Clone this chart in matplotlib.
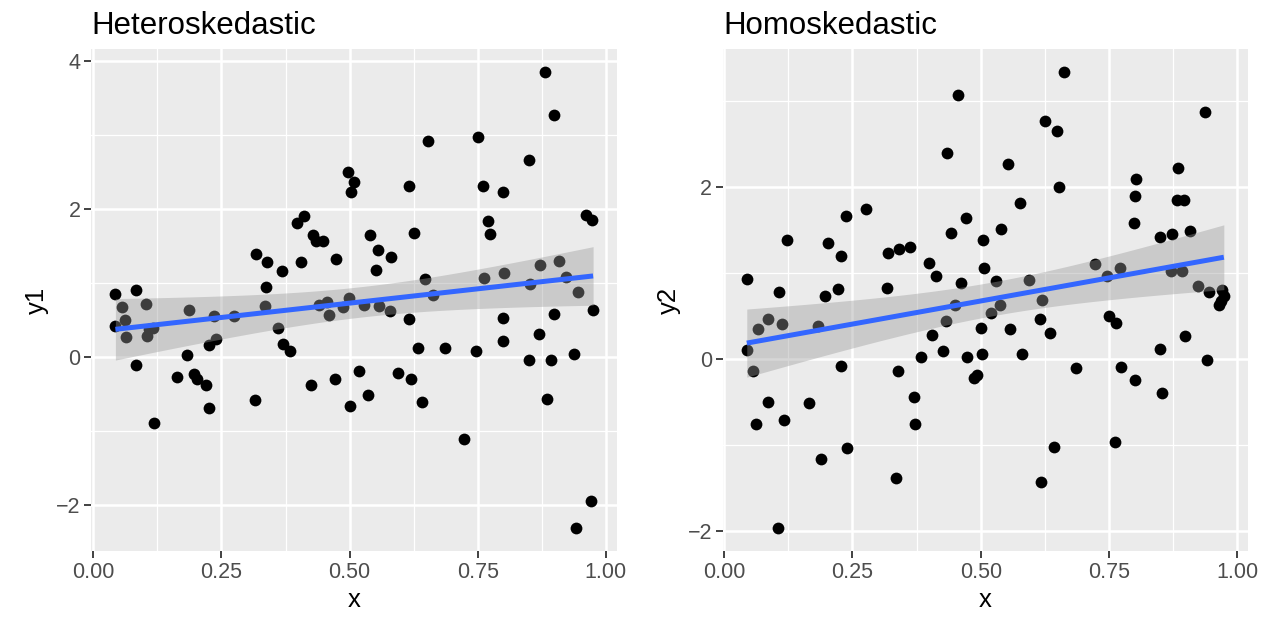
import numpy as np
import matplotlib
matplotlib.use("Agg")
import matplotlib.pyplot as plt
from matplotlib.ticker import MultipleLocator

plt.rcParams['font.family'] = ['Liberation Sans', 'DejaVu Sans']

# heteroskedastic panel
x1 = [0.496, 0.508, 0.502, 0.411, 0.398, 0.429, 0.435, 0.449, 0.318, 0.339,
      0.368, 0.405, 0.473, 0.337, 0.043, 0.084, 0.056, 0.103, 0.187, 0.334,
      0.440, 0.455, 0.488, 0.499, 0.882, 0.898, 0.652, 0.750, 0.849, 0.616,
      0.761, 0.800, 0.961, 0.972, 0.770, 0.774, 0.539, 0.555, 0.581, 0.552,
      0.625, 0.647, 0.662, 0.762, 0.802, 0.872, 0.909, 0.923, 0.852, 0.946,
      0.528, 0.558, 0.579, 0.975, 0.616, 0.634, 0.686, 0.746, 0.800, 0.799,
      0.898, 0.870, 0.850, 0.893, 0.937, 0.519, 0.501, 0.535, 0.594, 0.619,
      0.641, 0.723, 0.885, 0.970, 0.942, 0.061, 0.043, 0.064, 0.116, 0.105,
      0.109, 0.236, 0.275, 0.226, 0.239, 0.182, 0.083, 0.164, 0.196, 0.202,
      0.219, 0.225, 0.119, 0.316, 0.360, 0.370, 0.383, 0.459, 0.425, 0.471]
y1 = [2.50, 2.37, 2.23, 1.91, 1.82, 1.65, 1.57, 1.57, 1.40, 1.29,
      1.17, 1.29, 1.33, 0.95, 0.855, 0.91, 0.68, 0.72, 0.64, 0.69,
      0.70, 0.74, 0.68, 0.805, 3.85, 3.27, 2.92, 2.98, 2.67, 2.31,
      2.32, 2.23, 1.92, 1.86, 1.84, 1.66, 1.65, 1.45, 1.35, 1.18,
      1.68, 1.06, 0.84, 1.07, 1.14, 1.25, 1.30, 1.09, 0.99, 0.88,
      0.71, 0.69, 0.62, 0.635, 0.51, 0.125, 0.125, 0.09, 0.535, 0.215,
      0.59, 0.31, -0.035, -0.035, 0.045, -0.185, -0.66, -0.505, -0.21, -0.29,
      -0.61, -1.10, -0.57, -1.94, -2.31, 0.505, 0.42, 0.275, 0.40, 0.29,
      0.385, 0.56, 0.555, 0.17, 0.24, 0.03, -0.105, -0.265, -0.22, -0.30,
      -0.375, -0.685, -0.89, -0.575, 0.39, 0.175, 0.08, 0.575, -0.38, -0.30]

# homoskedastic panel
x2 = [0.456, 0.435, 0.276, 0.237, 0.471, 0.122, 0.203, 0.228, 0.319, 0.341,
      0.362, 0.442, 0.504, 0.399, 0.412, 0.507, 0.461, 0.044, 0.107, 0.197,
      0.221, 0.318, 0.450, 0.662, 0.626, 0.648, 0.553, 0.653, 0.577, 0.540,
      0.530, 0.594, 0.619, 0.537, 0.937, 0.884, 0.803, 0.800, 0.882, 0.897,
      0.798, 0.850, 0.873, 0.909, 0.723, 0.746, 0.771, 0.871, 0.893, 0.924,
      0.946, 0.971, 0.974, 0.968, 0.965, 0.520, 0.500, 0.557, 0.616, 0.635,
      0.502, 0.581, 0.493, 0.487, 0.686, 0.750, 0.764, 0.774, 0.800, 0.853,
      0.849, 0.898, 0.942, 0.642, 0.762, 0.617, 0.085, 0.065, 0.112, 0.183,
      0.044, 0.057, 0.227, 0.432, 0.406, 0.426, 0.473, 0.384, 0.338, 0.085,
      0.165, 0.062, 0.117, 0.369, 0.371, 0.240, 0.188, 0.335, 0.105]
y2 = [3.07, 2.39, 1.74, 1.66, 1.64, 1.38, 1.35, 1.19, 1.23, 1.275,
      1.30, 1.46, 1.38, 1.11, 0.96, 1.05, 0.88, 0.93, 0.78, 0.73,
      0.81, 0.82, 0.62, 3.33, 2.76, 2.65, 2.26, 2.00, 1.81, 1.51,
      0.90, 0.91, 0.68, 0.62, 2.87, 2.22, 2.085, 1.89, 1.85, 1.85,
      1.58, 1.41, 1.45, 1.49, 1.105, 0.965, 1.055, 1.02, 1.02, 0.84,
      0.77, 0.80, 0.735, 0.67, 0.62, 0.53, 0.36, 0.345, 0.46, 0.30,
      0.05, 0.05, -0.19, -0.22, -0.11, 0.50, 0.41, -0.10, -0.245, -0.40,
      0.115, 0.26, -0.01, -1.03, -0.97, -1.43, 0.465, 0.35, 0.405, 0.38,
      0.10, -0.145, -0.08, 0.435, 0.275, 0.09, 0.02, 0.015, -0.145, -0.50,
      -0.52, -0.755, -0.715, -0.44, -0.76, -1.04, -1.17, -1.39, -1.97]

titles = ["Heteroskedastic", "Homoskedastic"]
ylabels = ["y1", "y2"]
xticks = [0.0, 0.25, 0.5, 0.75, 1.0]
xticklabels = ["0.00", "0.25", "0.50", "0.75", "1.00"]


def smooth(ax, x, y):
    # lm fit with 95% confidence band, like geom_smooth(method = "lm")
    x = np.asarray(x)
    y = np.asarray(y)
    n = len(x)
    slope, icpt = np.polyfit(x, y, 1)
    resid = y - (icpt + slope * x)
    s = np.sqrt(np.sum(resid ** 2) / (n - 2))
    sxx = np.sum((x - x.mean()) ** 2)
    xs = np.linspace(x.min(), x.max(), 80)
    fit = icpt + slope * xs
    se = s * np.sqrt(1 / n + (xs - x.mean()) ** 2 / sxx)
    t = 1.984
    ax.fill_between(xs, fit - t * se, fit + t * se, color='#999999',
                    alpha=0.4, lw=0, zorder=3)
    ax.plot(xs, fit, color='#3366FF', lw=3.6, zorder=4, solid_capstyle='butt')


fig = plt.figure(figsize=(12.69, 6.17), dpi=100)
positions = [[0.0721, 0.107, 0.4141, 0.8128], [0.5697, 0.107, 0.4135, 0.8128]]
data = [(x1, y1), (x2, y2)]

for i in range(2):
    ax = fig.add_axes(positions[i])
    x, y = data[i]
    ax.set_facecolor('#EBEBEB')
    ax.scatter(x, y, s=72, c='black', lw=0, zorder=2)
    smooth(ax, x, y)
    ax.margins(0.05)
    for sp in ax.spines.values():
        sp.set_visible(False)
    ax.set_xticks(xticks)
    ax.set_xticklabels(xticklabels)
    ax.yaxis.set_major_locator(MultipleLocator(2))
    ax.xaxis.set_minor_locator(MultipleLocator(0.125))
    ax.yaxis.set_minor_locator(MultipleLocator(1))
    ax.grid(which='major', color='white', lw=1.8, zorder=0)
    ax.grid(which='minor', color='white', lw=0.9, zorder=0)
    ax.set_axisbelow(True)
    ax.tick_params(which='major', length=4.8, width=1.3, color='#333333',
                   labelcolor='#4D4D4D', labelsize=15.5, pad=3)
    ax.tick_params(which='minor', length=0)
    ax.set_title(titles[i], loc='left', fontsize=22.5, pad=11)
    ax.set_xlabel('x', fontsize=18.5, labelpad=4)
    ax.set_ylabel(ylabels[i], fontsize=18.5, labelpad=5)

fig.savefig('out.png', dpi=100)
